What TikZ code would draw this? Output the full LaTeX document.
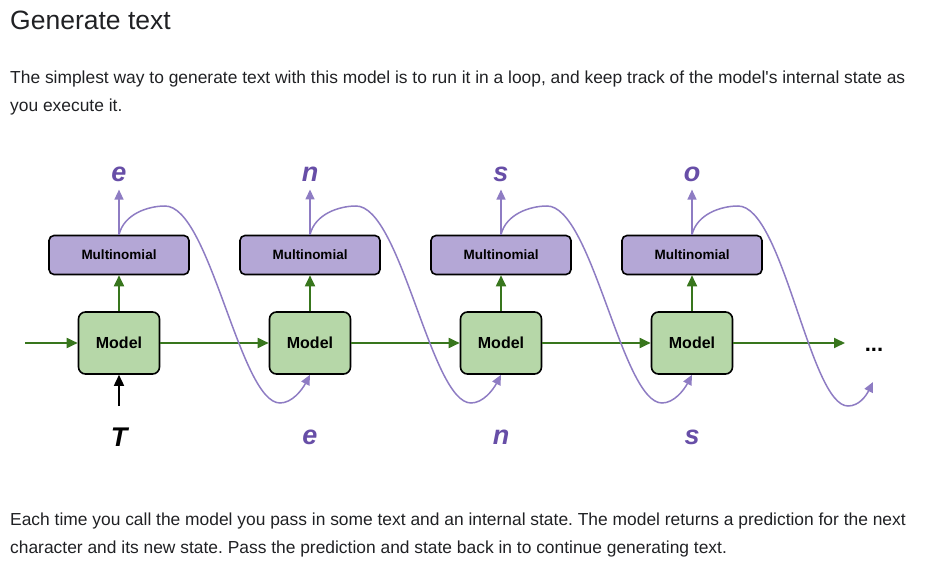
\documentclass[tikz,border=0pt]{standalone}
\usepackage{fontspec}
\setmainfont{Liberation Sans}
\usetikzlibrary{arrows.meta}
\definecolor{txtgray}{HTML}{202124}
\definecolor{mdlgreen}{HTML}{B6D7A8}
\definecolor{multpurple}{HTML}{B4A7D6}
\definecolor{flowgreen}{HTML}{38761D}
\definecolor{loopurple}{HTML}{8E7CC3}
\definecolor{chrpurple}{HTML}{674EA7}
\frenchspacing
\tikzset{
  >={Triangle[length=11pt,width=10pt]},
  mdl/.style={rectangle,draw=black,line width=1.6pt,rounded corners=7pt,fill=mdlgreen,minimum width=81pt,minimum height=62pt,font=\fontsize{16}{16}\selectfont\bfseries},
  mlt/.style={rectangle,draw=black,line width=1.6pt,rounded corners=5pt,fill=multpurple,minimum width=140pt,minimum height=39pt,font=\fontsize{13.5}{13.5}\selectfont\bfseries},
  gl/.style={draw=flowgreen,line width=1.8pt},
  pl/.style={draw=loopurple,line width=1.5pt,-{Triangle[length=10pt,width=9pt]}},
  chr/.style={inner sep=0pt,text=chrpurple,font=\fontsize{27}{27}\selectfont\bfseries\itshape},
  txt/.style={anchor=base west,inner sep=0pt,text=txtgray,font=\fontsize{17.4}{17.4}\selectfont},
}
\begin{document}
\begin{tikzpicture}[x=1pt,y=-1pt]
\useasboundingbox (0,0) rectangle (939,569);
\node[txt,font=\fontsize{26.5}{26.5}\selectfont] (h) at (10,30){Generate text};
\node[txt] (p1) at (10,84){The simplest way to generate text with this model is to run it in a loop, and keep track of the model\textquotesingle s internal state as};
\node[txt] (p2) at (10,112){you execute it.};
\node[txt] (p3) at (10,525){Each time you call the model you pass in some text and an internal state. The model returns a prediction for the next};
\node[txt] (p4) at (10,553){character and its new state. Pass the prediction and state back in to continue generating text.};
% boxes
\node[mlt] (mn1) at (119,255){Multinomial}; \node[mlt] (mn2) at (310,255){Multinomial};
\node[mlt] (mn3) at (501,255){Multinomial}; \node[mlt] (mn4) at (692,255){Multinomial};
\node[mdl] (m1) at (119,343){Model}; \node[mdl] (m2) at (310,343){Model};
\node[mdl] (m3) at (501,343){Model}; \node[mdl] (m4) at (692,343){Model};
% characters
\node[chr] (o1) at (119,174){e}; \node[chr] (o2) at (310,174){n};
\node[chr] (o3) at (501,174){s}; \node[chr] (o4) at (692,174){o};
\node[chr,text=black] (t) at (119,437){T}; \node[chr] (i2) at (310,437){e};
\node[chr] (i3) at (501,437){n}; \node[chr] (i4) at (692,437){s};
\coordinate (in) at (25,343); \coordinate (out) at (845,343); \coordinate (tin) at (119,406);
\coordinate (end) at (873,382);
\node[anchor=base,inner sep=0pt,font=\fontsize{22}{22}\selectfont\bfseries] (dots) at (874,351){...};
% flow
\draw[gl,->] (in)--(m1); \draw[gl,->] (m1)--(m2); \draw[gl,->] (m2)--(m3);
\draw[gl,->] (m3)--(m4); \draw[gl,->] (m4)--(out);
\draw[gl,->] (m1)--(mn1); \draw[gl,->] (m2)--(mn2); \draw[gl,->] (m3)--(mn3); \draw[gl,->] (m4)--(mn4);
\draw[line width=1.6pt,->] (tin)--(m1);
\draw[pl,shorten >=8pt] (mn1.north)--(o1.south); \draw[pl,shorten >=8pt] (mn2.north)--(o2.south);
\draw[pl,shorten >=8pt] (mn3.north)--(o3.south); \draw[pl,shorten >=8pt] (mn4.north)--(o4.south);
% loops back
\draw[pl] (mn1.north) .. controls (124,214) and (148,206) .. (165,206) .. controls (210,206) and (240,403) .. (280,403) .. controls (292,403) and (302,390) .. (m2.south);
\draw[pl] (mn2.north) .. controls (315,214) and (339,206) .. (356,206) .. controls (401,206) and (431,403) .. (471,403) .. controls (483,403) and (493,390) .. (m3.south);
\draw[pl] (mn3.north) .. controls (506,214) and (530,206) .. (547,206) .. controls (592,206) and (622,403) .. (662,403) .. controls (674,403) and (684,390) .. (m4.south);
\draw[pl] (mn4.north) .. controls (697,214) and (721,206) .. (738,206) .. controls (783,206) and (810,406) .. (848,406) .. controls (859,406) and (866,396) .. (end);
\end{tikzpicture}
\end{document}
